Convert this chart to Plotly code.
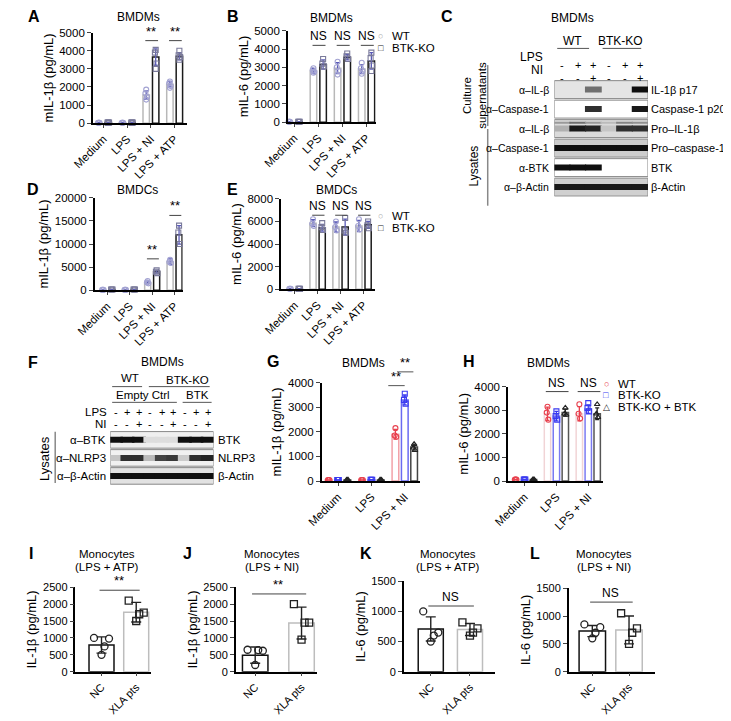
import plotly.graph_objects as go

W, H = 731, 721
OX, OY = 8, 8          # page body margin in the browser
FW, FH = W - OX, H - OY
FONT = "'Liberation Sans', Arial, sans-serif"

# ---------------- data ----------------
grp4 = ["Medium", "LPS", "LPS + NI", "LPS + ATP"]
grp3 = ["Medium", "LPS", "LPS + NI"]
mono_grp = ["NC", "XLA pts"]

# A: BMDMs, mIL-1β
a_wt = [15, 15, 1550, 2150]
a_wt_sd = [5, 5, 230, 150]
a_wt_pts = [[15, 15, 15, 15], [15, 15, 15, 15], [1850, 1650, 1450, 1300], [2300, 2200, 2050, 1950]]
a_ko = [30, 30, 3650, 3700]
a_ko_sd = [5, 5, 450, 200]
a_ko_pts = [[30, 30, 30, 30], [30, 30, 30, 30], [4050, 3900, 3300, 3000], [4000, 3750, 3650, 3500]]
a_sig = ["", "", "**", "**"]
a_sig_y = [0, 0, 4560, 4560]

# B: BMDMs, mIL-6
b_wt = [20, 2800, 2950, 2900]
b_wt_sd = [5, 120, 300, 250]
b_wt_pts = [[20, 20, 20, 20], [2950, 2850, 2750, 2700], [3300, 3000, 2800, 2600], [3250, 2950, 2800, 2650]]
b_ko = [20, 3150, 3550, 3350]
b_ko_sd = [5, 250, 150, 450]
b_ko_pts = [[20, 20, 20], [3450, 3200, 3050], [3750, 3600, 3450], [3800, 3500, 3100, 2800]]
b_sig = ["", "NS", "NS", "NS"]
b_sig_y = [0, 4200, 4200, 4200]

# D: BMDCs, mIL-1β
d_wt = [80, 80, 1700, 6200]
d_wt_sd = [20, 20, 250, 600]
d_wt_pts = [[80, 80, 80], [80, 80, 80], [2000, 1700, 1500], [6600, 6100, 5900]]
d_ko = [150, 150, 4000, 12000]
d_ko_sd = [20, 20, 300, 2000]
d_ko_pts = [[150, 150, 150], [150, 150, 150], [4300, 4000, 3700], [14000, 12500, 10000]]
d_sig = ["", "", "**", "**"]
d_sig_y = [0, 0, 6800, 16200]

# E: BMDCs, mIL-6
e_wt = [40, 5850, 5500, 5600]
e_wt_sd = [10, 300, 450, 500]
e_wt_pts = [[40, 40, 40], [6200, 5800, 5600], [6000, 5500, 5200], [6200, 5600, 5300]]
e_ko = [40, 5450, 5500, 5700]
e_ko_sd = [10, 300, 700, 300]
e_ko_pts = [[40, 40, 40], [5850, 5500, 5250], [6300, 5200, 5000], [6000, 5650, 5400]]
e_sig = ["", "NS", "NS", "NS"]
e_sig_y = [0, 6550, 6550, 6550]

# G: BMDMs, mIL-1β (WT / BTK-KO / BTK-KO + BTK)
g_wt = [40, 40, 1900]
g_wt_sd = [5, 5, 200]
g_wt_pts = [[40, 40, 40], [40, 40, 40], [2150, 1850, 1800]]
g_ko = [40, 50, 3300]
g_ko_sd = [5, 5, 200]
g_ko_pts = [[40, 40, 40], [50, 50, 50], [3550, 3300, 3150]]
g_kb = [40, 40, 1380]
g_kb_sd = [5, 5, 120]
g_kb_pts = [[40, 40, 40], [40, 40, 40], [1500, 1350, 1250]]

# H: BMDMs, mIL-6
h_wt = [60, 2850, 2850]
h_wt_sd = [10, 280, 300]
h_wt_pts = [[60, 60, 60], [3150, 2900, 2600], [3250, 2850, 2650]]
h_ko = [60, 2750, 3050]
h_ko_sd = [10, 200, 180]
h_ko_pts = [[60, 60, 60], [2950, 2750, 2600], [3300, 3100, 2950]]
h_kb = [60, 2900, 2850]
h_kb_sd = [10, 150, 250]
h_kb_pts = [[60, 60, 60], [3100, 2850, 2800], [3250, 2850, 2700]]
h_sig_y = 3790

# I-L: human monocytes
i_mean = [790, 1760]
i_sd = [240, 290]
i_pts = [[1000, 980, 750, 500], [2100, 1750, 1700, 1500]]
j_mean = [490, 1440]
j_sd = [240, 470]
j_pts = [[650, 620, 640, 200], [2000, 1450, 1450, 950]]
k_mean = [710, 700]
k_sd = [200, 100]
k_pts = [[1000, 650, 600, 500], [820, 720, 650, 600]]
l_mean = [730, 750]
l_sd = [100, 250]
l_pts = [[850, 800, 700, 600], [1050, 780, 700, 500]]

# blots: band intensity per lane (0 = no band)
c_rows = ["α–IL-β", "α–Caspase-1", "α–IL-β", "α–Caspase-1", "α-BTK", "α–β-Actin"]
c_right = ["IL-1β p17", "Caspase-1 p20", "Pro–IL-1β", "Pro–caspase-1", "BTK", "β-Actin"]
c_bands = [
    [0, 0, 0.55, 0, 0, 1.0],
    [0, 0, 0.85, 0, 0, 0.95],
    [0.25, 0.95, 0.9, 0.15, 0.85, 0.85],
    [1, 1, 1, 1, 1, 1],
    [1, 1, 1, 0, 0, 0],
    [0.95, 0.95, 0.95, 0.95, 0.95, 0.95],
]
c_pro_upper = [0.35, 0.55, 0.35, 0.2, 0.45, 0.4]
c_lps = ["-", "+", "+", "-", "+", "+"]
c_ni = ["-", "-", "+", "-", "-", "+"]

f_rows = ["α–BTK", "α–NLRP3", "α–β-Actin"]
f_right = ["BTK", "NLRP3", "β-Actin"]
f_bands = [
    [1, 1, 1, 0.04, 0.04, 0.04, 1, 1, 1],
    [0.15, 0.85, 0.85, 0.2, 0.75, 0.8, 0.12, 0.85, 0.9],
    [1, 1, 1, 1, 1, 1, 1, 1, 1],
]
f_lps = ["-", "+", "+", "-", "+", "+", "-", "+", "+"]
f_ni = ["-", "-", "+", "-", "-", "+", "-", "-", "+"]

# ---------------- helpers ----------------
fig = go.Figure()
JIT = [0.0, -0.12, 0.12, 0.0]
JIT_WIDE = [-0.3, 0.3, 0.12, 0.0]


def fx(x):
    return (x - OX) / FW


def fy(y):
    return 1 - (y - OY) / FH


def sx(n):
    return "" if n == 1 else str(n)


def font(size, color="black"):
    return dict(family=FONT, size=size, color=color)


def text(x, y, s, size=12, xanchor="center", yanchor="middle", color="black", angle=0, bold=False):
    fig.add_annotation(x=fx(x), y=fy(y), xref="paper", yref="paper", text=f"<b>{s}</b>" if bold else s,
                       showarrow=False, xanchor=xanchor, yanchor=yanchor, textangle=angle, font=font(size, color))


def pline(x0, y0, x1, y1, color="#555", width=1):
    fig.add_shape(type="line", xref="paper", yref="paper", x0=fx(x0), x1=fx(x1),
                  y0=fy(y0), y1=fy(y1), line=dict(color=color, width=width))


def setup_axes(n, box, xr, yr, dtick, ticktext, ytitle, tick_size=11.5, title_size=13):
    x0, x1, y0, y1 = box
    s = sx(n)
    fig.layout["xaxis" + s] = dict(
        domain=[fx(x0), fx(x1)], anchor="y" + s, range=xr, tickvals=list(range(len(ticktext))),
        ticktext=ticktext, tickangle=-45, ticks="outside", ticklen=3, tickwidth=1.2,
        showline=True, linecolor="black", linewidth=1.5, showgrid=False, zeroline=False,
        tickfont=font(tick_size))
    fig.layout["yaxis" + s] = dict(
        domain=[fy(y1), fy(y0)], anchor="x" + s, range=yr, dtick=dtick, tickformat="d", ticks="outside",
        ticklen=4, tickwidth=1.2, showline=True, linecolor="black", linewidth=1.5, showgrid=False,
        zeroline=False, tickfont=font(tick_size),
        title=dict(text=ytitle, standoff=3, font=font(title_size)))


def series(n, means, sds, pts, off, width, bar_c, pt_c, err_c, sym, jit=JIT, psize=5, cap=2):
    s = sx(n)
    xs = [i + off for i in range(len(means))]
    fig.add_trace(go.Bar(x=xs, y=means, width=width, xaxis="x" + s, yaxis="y" + s,
                         marker=dict(color="white", line=dict(color=bar_c, width=1.5)),
                         error_y=dict(type="data", array=sds, color=err_c, thickness=1.3, width=cap)))
    px_, py_ = [], []
    for i, p in enumerate(pts):
        for k, v in enumerate(p):
            px_.append(i + off + jit[k % len(jit)] * width)
            py_.append(v)
    fig.add_trace(go.Scatter(x=px_, y=py_, mode="markers", xaxis="x" + s, yaxis="y" + s, cliponaxis=False,
                             marker=dict(symbol=sym, size=psize, color=pt_c, line=dict(width=1.1, color=pt_c))))


def bracket(n, x0, x1, y, label, size=12):
    s = sx(n)
    fig.add_annotation(x=x1, y=y, ax=x0, ay=y, xref="x" + s, yref="y" + s, axref="x" + s, ayref="y" + s,
                       showarrow=True, arrowhead=0, arrowwidth=1, arrowcolor="#444", text="")
    fig.add_annotation(x=(x0 + x1) / 2, y=y, xref="x" + s, yref="y" + s, text=label, showarrow=False,
                       yanchor="bottom", font=font(size))


def gray(v):
    if v <= 0:
        return "rgba(0,0,0,0)"
    g = int(230 - 215 * v)
    return f"rgb({g},{g},{g})"


def blot(n, box, bands, bgs, size, thick):
    x0, x1, y0, y1 = box
    s = sx(n)
    nl, nr = len(bands[0]), len(bands)
    fig.layout["xaxis" + s] = dict(domain=[fx(x0), fx(x1)], anchor="y" + s, range=[0.5, nl + 0.5], visible=False)
    fig.layout["yaxis" + s] = dict(domain=[fy(y1), fy(y0)], anchor="x" + s,
                                   range=[nr - 0.5, -0.5], visible=False)
    lanes = list(range(1, nl + 1))
    for r, vals in enumerate(bands):
        fig.add_shape(type="rect", xref="x" + s, yref="y" + s, x0=0.5, x1=nl + 0.5, y0=r - 0.46, y1=r + 0.46,
                      fillcolor=bgs[r], line=dict(color="#888", width=1), layer="below")
        fig.add_trace(go.Scatter(x=lanes, y=[r] * nl, mode="markers", xaxis="x" + s, yaxis="y" + s,
                                 marker=dict(symbol="line-ew", size=size,
                                             line=dict(width=thick, color=[gray(v) for v in vals]))))


# ---------------- bar panels ----------------
WT_PT, KO_PT, ERR = "#a3a3d2", "#7a7a9a", "#5a5ab8"
for n, box, xr, yr, dt, wt, ko, title_y in [
    (1, (70, 167, 27, 119), [-0.45, 3.5], [0, 5000], 1000,
     (a_wt, a_wt_sd, a_wt_pts), (a_ko, a_ko_sd, a_ko_pts), "mIL-1β (pg/mL)"),
    (2, (272, 363, 25, 118), [-0.26, 3.38], [0, 5000], 1000,
     (b_wt, b_wt_sd, b_wt_pts), (b_ko, b_ko_sd, b_ko_pts), "mIL-6 (pg/mL)"),
    (3, (72, 163, 195, 289), [-0.56, 3.36], [0, 20000], 5000,
     (d_wt, d_wt_sd, d_wt_pts), (d_ko, d_ko_sd, d_ko_pts), "mIL-1β (pg/mL)"),
    (4, (265, 362, 196, 288), [-0.59, 3.49], [0, 8000], 2000,
     (e_wt, e_wt_sd, e_wt_pts), (e_ko, e_ko_sd, e_ko_pts), "mIL-6 (pg/mL)"),
]:
    setup_axes(n, box, xr, yr, dt, grp4, title_y)
    series(n, *wt, -0.2, 0.27, "#b8b8b8", WT_PT, ERR, "circle-open")
    series(n, *ko, 0.2, 0.27, "#1a1a1a", KO_PT, ERR, "square-open")

for n, sig, sig_y in [(1, a_sig, a_sig_y), (2, b_sig, b_sig_y), (3, d_sig, d_sig_y), (4, e_sig, e_sig_y)]:
    for i, (lab, yv) in enumerate(zip(sig, sig_y)):
        if lab:
            bracket(n, i - 0.3, i + 0.3, yv, lab, size=13 if lab == "**" else 12)

# G / H
RED, BLUE, BLK = "#e8414e", "#3a3af0", "#222222"
setup_axes(5, (307, 409, 383, 483), [-0.49, 2.46], [0, 4000], 1000, grp3, "mIL-1β (pg/mL)")
series(5, g_wt, g_wt_sd, g_wt_pts, -0.28, 0.2, "#f2a2a8", RED, RED, "circle-open")
series(5, g_ko, g_ko_sd, g_ko_pts, 0.0, 0.2, "#6a6af2", BLUE, BLUE, "square-open")
series(5, g_kb, g_kb_sd, g_kb_pts, 0.28, 0.2, "#444444", BLK, BLK, "triangle-up-open")
# brackets above the axis top (outside the data range)
pline(376, 386, 393, 386)
text(384.5, 386, "**", 13, yanchor="bottom")
pline(385, 372, 402, 372)
text(393.5, 372, "**", 13, yanchor="bottom")

setup_axes(6, (500, 598, 387, 483), [-0.52, 2.45], [0, 4000], 1000, grp3, "mIL-6 (pg/mL)")
series(6, h_wt, h_wt_sd, h_wt_pts, -0.28, 0.2, "#f1d4d6", RED, RED, "circle-open")
series(6, h_ko, h_ko_sd, h_ko_pts, 0.0, 0.2, "#7a7af2", BLUE, BLUE, "square-open")
series(6, h_kb, h_kb_sd, h_kb_pts, 0.28, 0.2, "#555555", BLK, BLK, "triangle-up-open")
for i in (1, 2):
    bracket(6, i - 0.38, i + 0.38, h_sig_y, "NS", 12)

# I - L
for n, box, xr, yr, w, mean, sd, pts, ytitle, lab, sig_y in [
    (7, (52, 130, 591, 677), [-0.75, 1.42], [0, 2500], 0.72, i_mean, i_sd, i_pts, "IL-1β (pg/mL)", "**", 2410),
    (8, (218, 302, 591, 677), [-0.42, 1.33], [0, 2500], 0.55, j_mean, j_sd, j_pts, "IL-1β (pg/mL)", "**", 2300),
    (9, (392, 487, 585, 677), [-0.69, 1.65], [0, 1500], 0.64, k_mean, k_sd, k_pts, "IL-6 (pg/mL)", "NS", 1090),
    (10, (563, 652, 592, 677), [-0.64, 1.70], [0, 1500], 0.72, l_mean, l_sd, l_pts, "IL-6 (pg/mL)", "NS", 1250),
]:
    setup_axes(n, box, xr, yr, 500, mono_grp, ytitle, tick_size=11, title_size=13)
    s = sx(n)
    for g, (bc, sym) in enumerate([("#111111", "circle-open"), ("#bdbdbd", "square-open")]):
        fig.add_trace(go.Bar(x=[g], y=[mean[g]], width=w, xaxis="x" + s, yaxis="y" + s,
                             marker=dict(color="white", line=dict(color=bc, width=1.5)),
                             error_y=dict(type="data", array=[sd[g]], color="#222", thickness=1.4, width=5)))
        fig.add_trace(go.Scatter(x=[g + JIT_WIDE[k] * w for k in range(len(pts[g]))], y=pts[g],
                                 mode="markers", xaxis="x" + s, yaxis="y" + s, cliponaxis=False,
                                 marker=dict(symbol=sym, size=7, color="#222",
                                             line=dict(width=1.3, color="#222"))))
    bracket(n, -0.1, 1.1, sig_y, lab, 13 if lab == "**" else 12)

# ---------------- blots ----------------
blot(11, (548, 645, 75, 194), c_bands, ["#e4e4e4", "white", "#dadada", "#cdcdcd", "white", "#d0d0d0"], 12, 6)
fig.add_trace(go.Scatter(x=list(range(1, 7)), y=[2 - 0.3] * 6, mode="markers", xaxis="x11", yaxis="y11",
                         marker=dict(symbol="line-ew", size=12, line=dict(width=2, color=[gray(v) for v in c_pro_upper]))))
for r, (lt, rt) in enumerate(zip(c_rows, c_right)):
    fig.add_annotation(x=fx(545), y=r, xref="paper", yref="y11", text=lt, showarrow=False, xanchor="right",
                       font=font(10.5))
    fig.add_annotation(x=fx(646), y=r, xref="paper", yref="y11", text=rt, showarrow=False, xanchor="left",
                       font=font(11))
for k, (a, b) in enumerate(zip(c_lps, c_ni)):
    fig.add_annotation(x=k + 1, y=fy(52), xref="x11", yref="paper", text=a, showarrow=False, font=font(11))
    fig.add_annotation(x=k + 1, y=fy(65), xref="x11", yref="paper", text=b, showarrow=False, font=font(11))
text(538, 52, "LPS", 12, xanchor="right")
text(538, 65, "NI", 12, xanchor="right")
text(567, 35, "WT", 12)
text(617, 35, "BTK-KO", 12)
pline(551, 43, 584, 43)
pline(598, 43, 638, 43)
text(465, 91, "Culture<br>supernatants", 11.5, angle=-90)
text(465, 163, "Lysates", 12, angle=-90)
pline(479, 60, 479, 122, "#888", 1.5)
pline(479, 125, 479, 203, "#888", 1.5)

blot(12, (88, 195, 432, 487), f_bands, ["#efefef", "#f1f1f1", "#e2e2e2"], 10, 6)
for r, (lt, rt) in enumerate(zip(f_rows, f_right)):
    fig.add_annotation(x=fx(86), y=r, xref="paper", yref="y12", text=lt, showarrow=False, xanchor="right",
                       font=font(11.5))
    fig.add_annotation(x=fx(198), y=r, xref="paper", yref="y12", text=rt, showarrow=False, xanchor="left",
                       font=font(11.5))
for k, (a, b) in enumerate(zip(f_lps, f_ni)):
    fig.add_annotation(x=k + 1, y=fy(413), xref="x12", yref="paper", text=a, showarrow=False, font=font(11))
    fig.add_annotation(x=k + 1, y=fy(425), xref="x12", yref="paper", text=b, showarrow=False, font=font(11))
text(87, 413, "LPS", 11.5, xanchor="right")
text(87, 425, "NI", 11.5, xanchor="right")
text(108, 378, "WT", 11.5)
text(168, 380, "BTK-KO", 11.5)
text(122, 396, "Empty Ctrl", 11.5)
text(178, 396, "BTK", 11.5)
pline(90, 387, 121, 387)
pline(128, 387, 191, 387)
pline(90, 403, 157, 403)
pline(163, 403, 193, 403)
text(20, 460, "Lysates", 13, angle=-90)
pline(31, 433, 31, 485, "#888", 1.5)

# ---------------- titles, letters, legends ----------------
for lab, x, y in [("A", 9, 11), ("B", 215, 11), ("C", 437, 11), ("D", 8, 187), ("E", 215, 187),
                  ("F", 8, 362), ("G", 257, 361), ("H", 460, 361), ("I", 6, 557), ("J", 168, 557),
                  ("K", 353, 557), ("L", 528, 557)]:
    text(x, y, lab, 16, bold=True)

for t, x, y in [("BMDMs", 117, 11), ("BMDMs", 317, 12), ("BMDMs", 567, 12), ("BMDCs", 116, 187),
                ("BMDCs", 322, 187), ("BMDMs", 142, 362), ("BMDMs", 350, 363), ("BMDMs", 542, 363)]:
    text(x, y, t, 12)
for x, sub in [(85, "(LPS + ATP)"), (256, "(LPS + NI)"), (438, "(LPS + ATP)"), (599, "(LPS + NI)")]:
    text(x, 557, "Monocytes", 11.5)
    text(x, 570, sub, 11.5)

for y0 in (30, 213):
    text(368, y0, "○", 9, color="#aaaaaa")
    text(378, y0, "WT", 11.5, xanchor="left")
    text(368, y0 + 13, "□", 9, color="#222222")
    text(378, y0 + 13, "BTK-KO", 11.5, xanchor="left")
for k, (sym, c, lab) in enumerate([("○", RED, "WT"), ("□", BLUE, "BTK-KO"), ("△", BLK, "BTK-KO + BTK")]):
    text(602, 384 + 12 * k, sym, 9, color=c)
    text(612, 384 + 12 * k, lab, 11.5, xanchor="left")

fig.update_layout(
    width=FW, height=FH, margin=dict(l=0, r=0, t=0, b=0),
    paper_bgcolor="white", plot_bgcolor="white", showlegend=False, barmode="overlay",
    font=dict(family=FONT, size=11, color="black"),
)
fig.write_html("out.html")
